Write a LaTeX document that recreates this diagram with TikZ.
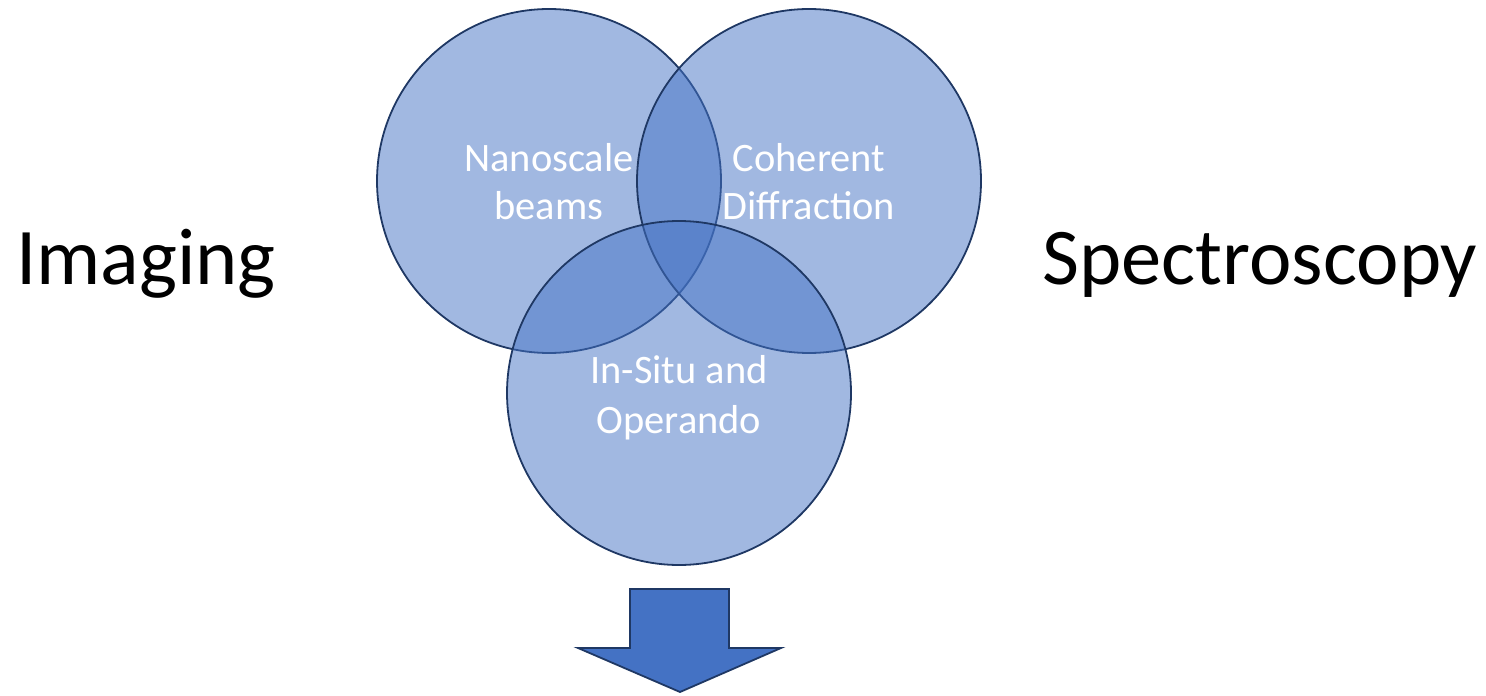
\documentclass[tikz,border=0pt]{standalone}
\usepackage{fontspec}
\setmainfont{Carlito}
\definecolor{vennblue}{HTML}{4472C4}
\definecolor{venndark}{HTML}{1F3864}
\begin{document}
\begin{tikzpicture}[x=0.5pt,y=-0.5pt,
  venn/.style={circle, minimum size=172pt, inner sep=0pt, outer sep=0pt, draw=venndark, line width=0.9pt, fill=vennblue, fill opacity=0.5, draw opacity=1},
  inlabel/.style={text=white, align=center, font=\fontsize{20.2pt}{24pt}\selectfont, inner sep=0pt},
  biglabel/.style={text=black, font=\fontsize{40.2pt}{48pt}\selectfont, inner sep=0pt, anchor=base}]
\useasboundingbox (0,0) rectangle (1486,695);
\node[venn] (nano) at (549,181) {};
\node[venn] (coh) at (809,181) {};
\node[venn] (insitu) at (679,393) {};
\node[inlabel, anchor=base] (t1a) at (549,172) {Nanoscale};
\node[inlabel, anchor=base] (t1b) at (549,220) {beams};
\node[inlabel, anchor=base] (t2a) at (809,172) {Coherent};
\node[inlabel, anchor=base] (t2b) at (809,220) {Diffraction};
\node[inlabel, anchor=base] (t3a) at (679,383) {In-Situ and};
\node[inlabel, anchor=base] (t3b) at (679,433) {Operando};
\node[biglabel] (img) at (146,284) {Imaging};
\node[biglabel] (spec) at (1260,284) {Spectroscopy};
\draw[fill=vennblue, draw=venndark, line width=0.9pt, line join=miter]
  (630,589) -- (729,589) -- (729,648) -- (781,648) -- (680,692) -- (578,648) -- (630,648) -- cycle;
\end{tikzpicture}
\end{document}
